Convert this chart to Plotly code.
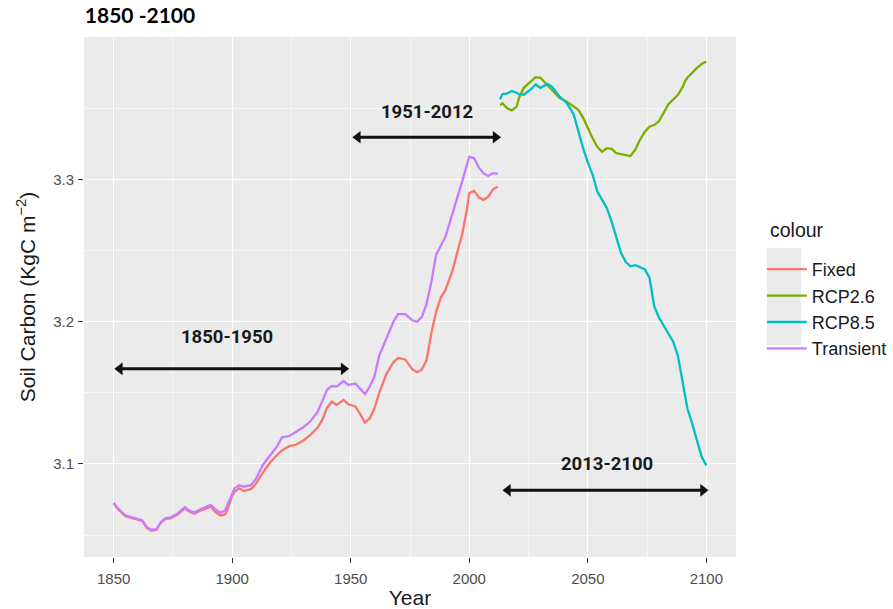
import plotly.graph_objects as go

# ---------------- data ----------------
hist_years = [1850, 1852, 1855, 1858, 1862, 1864, 1866, 1868, 1870, 1872, 1874, 1877,
              1880, 1882, 1884, 1886, 1889, 1891, 1893, 1895, 1897, 1898, 1900, 1901,
              1903, 1905, 1908, 1910, 1913, 1916, 1919, 1921, 1924, 1927, 1930, 1933,
              1936, 1938, 1940, 1942, 1944, 1947, 1949, 1952, 1954, 1956, 1958, 1960,
              1962, 1965, 1968, 1970, 1973, 1976, 1978, 1980, 1982, 1984, 1986, 1988,
              1990, 1993, 1995, 1997, 1999, 2000, 2002, 2004, 2006, 2008, 2010, 2012]

transient = [3.0728, 3.0685, 3.0638, 3.0625, 3.0605, 3.0556, 3.0536, 3.0541, 3.0594, 3.0620,
             3.0625, 3.0652, 3.0696, 3.0672, 3.0658, 3.0677, 3.0696, 3.0712, 3.0680, 3.0658,
             3.0672, 3.0712, 3.0800, 3.0829, 3.0850, 3.0840, 3.0852, 3.0895, 3.0995, 3.1062,
             3.1125, 3.1188, 3.1195, 3.1227, 3.1258, 3.1300, 3.1365, 3.1440, 3.1522, 3.1548,
             3.1544, 3.1583, 3.1555, 3.1565, 3.1530, 3.1492, 3.1544, 3.1615, 3.1760, 3.1880,
             3.2000, 3.2054, 3.2054, 3.2010, 3.2000, 3.2035, 3.2125, 3.2280, 3.2470, 3.2535,
             3.2600, 3.2765, 3.2870, 3.2985, 3.3105, 3.3160, 3.3149, 3.3085, 3.3044, 3.3025,
             3.3045, 3.3040]

fixed = [3.0722, 3.0680, 3.0633, 3.0620, 3.0600, 3.0551, 3.0531, 3.0536, 3.0589, 3.0614,
         3.0618, 3.0645, 3.0688, 3.0665, 3.0650, 3.0668, 3.0686, 3.0700, 3.0662, 3.0638,
         3.0645, 3.0680, 3.0775, 3.0805, 3.0829, 3.0810, 3.0825, 3.0860, 3.0940, 3.1010,
         3.1065, 3.1095, 3.1125, 3.1135, 3.1165, 3.1205, 3.1255, 3.1310, 3.1395, 3.1438,
         3.1415, 3.1450, 3.1420, 3.1405, 3.1350, 3.1290, 3.1320, 3.1390, 3.1500, 3.1630,
         3.1715, 3.1745, 3.1735, 3.1665, 3.1645, 3.1665, 3.1731, 3.1920, 3.2070, 3.2170,
         3.2225, 3.2365, 3.2490, 3.2615, 3.2790, 3.2903, 3.2920, 3.2875, 3.2856, 3.2879,
         3.2930, 3.2950]

future_years = [2013, 2014, 2016, 2018, 2020, 2021, 2023, 2026, 2028, 2030, 2033, 2035,
                2038, 2041, 2044, 2046, 2048, 2050, 2052, 2054, 2056, 2058, 2060, 2062,
                2064, 2066, 2068, 2070, 2072, 2074, 2076, 2077, 2078, 2080, 2082, 2084,
                2086, 2088, 2090, 2091, 2092, 2094, 2096, 2098, 2100]

rcp26 = [3.3524, 3.3536, 3.3500, 3.3486, 3.3512, 3.3575, 3.3645, 3.3692, 3.3720, 3.3715,
         3.3660, 3.3625, 3.3575, 3.3548, 3.3512, 3.3490, 3.3435, 3.3360, 3.3290, 3.3230,
         3.3195, 3.3220, 3.3215, 3.3185, 3.3178, 3.3170, 3.3165, 3.3210, 3.3280, 3.3335,
         3.3372, 3.3378, 3.3383, 3.3410, 3.3470, 3.3530, 3.3562, 3.3595, 3.3650, 3.3690,
         3.3715, 3.3750, 3.3785, 3.3812, 3.3830]

rcp85 = [3.3564, 3.3600, 3.3606, 3.3622, 3.3610, 3.3600, 3.3596, 3.3635, 3.3668, 3.3645,
         3.3672, 3.3650, 3.3585, 3.3540, 3.3460, 3.3340, 3.3220, 3.3120, 3.3035, 3.2915,
         3.2860, 3.2800, 3.2705, 3.2595, 3.2485, 3.2420, 3.2390, 3.2398, 3.2385, 3.2370,
         3.2310, 3.2200, 3.2110, 3.2030, 3.1970, 3.1915, 3.1860, 3.1760, 3.1560, 3.1480,
         3.1390, 3.1285, 3.1169, 3.1050, 3.0990]

x_ticks = [1850, 1900, 1950, 2000, 2050, 2100]
y_ticks = [3.1, 3.2, 3.3]
y_tick_labels = ["3.1", "3.2", "3.3"]

period_labels = ["1850-1950", "1951-2012", "2013-2100"]
period_start = [1850, 1950.4, 2013.7]
period_end = [1949.6, 2013.7, 2101.2]
period_arrow_y = [3.1669, 3.3297, 3.0815]
period_label_x = [1898, 1982, 2058]
period_label_y = [3.1895, 3.3477, 3.0998]

# ---------------- figure ----------------
colors = {"Fixed": "#F8766D", "RCP2.6": "#7CAE00", "RCP8.5": "#00BFC4", "Transient": "#C77CFF"}

fig = go.Figure()
series = [("Fixed", hist_years, fixed), ("RCP2.6", future_years, rcp26),
          ("RCP8.5", future_years, rcp85), ("Transient", hist_years, transient)]
for name, xs, ys in series:
    fig.add_trace(go.Scatter(x=xs, y=ys, mode="lines", name=name, legendgroup=name,
                             line=dict(color=colors[name], width=2.3)))

# period arrows (double-headed) and labels
head_off = 2.6  # years: pull the triangle centres inside so the tips land on the ends
for lab, s, e, ay, lx, ly in zip(period_labels, period_start, period_end,
                                 period_arrow_y, period_label_x, period_label_y):
    fig.add_trace(go.Scatter(x=[s + head_off, e - head_off], y=[ay, ay],
                             mode="lines+markers", showlegend=False, hoverinfo="skip",
                             line=dict(color="#111111", width=3),
                             marker=dict(symbol=["triangle-left", "triangle-right"],
                                         size=11, color="#111111",
                                         line=dict(width=0))))
    fig.add_annotation(x=lx, y=ly, xref="x", yref="y", text="<b>" + lab + "</b>",
                       showarrow=False,
                       font=dict(family="Liberation Sans Narrow, Roboto", size=18.5,
                                 color="#1a1a1a"))

# legend title (drawn separately to match ggplot spacing)
fig.add_annotation(x=1.049, y=0.629, xref="paper", yref="paper", xanchor="left",
                   yanchor="middle", text="colour", showarrow=False,
                   font=dict(size=19.5, color="#1a1a1a"))

# grey background behind legend keys (ggplot style)
fig.add_shape(type="rect", xref="paper", yref="paper", x0=1.0475, x1=1.0997,
              y0=0.4077, y1=0.5942, fillcolor="#EBEBEB", line=dict(width=0), layer="below")

fig.update_layout(
    width=893, height=609,
    margin=dict(l=84, r=157, t=37, b=52, autoexpand=False),
    paper_bgcolor="white", plot_bgcolor="#EBEBEB",
    font=dict(family="Liberation Sans, Arial", color="#1a1a1a"),
    title=dict(text="<b>1850 -2100</b>", x=0.095, xanchor="left", xref="container",
               y=0.975, yanchor="middle",
               font=dict(family="Lato, Roboto", size=21, color="black")),
    showlegend=True,
    legend=dict(x=1.0396, xanchor="left", y=0.5885, yanchor="top",
                font=dict(size=18, color="#1a1a1a"), bgcolor="rgba(0,0,0,0)",
                traceorder="normal", tracegroupgap=0, itemwidth=40),
    xaxis=dict(range=[1837.5, 2112.5], tickvals=x_ticks, ticks="outside", ticklen=5,
               tickwidth=1, tickcolor="#333333", ticklabelstandoff=3,
               tickfont=dict(size=15, color="#4D4D4D"),
               showgrid=True, gridcolor="white", gridwidth=1.2, zeroline=False,
               showline=False,
               minor=dict(dtick=25, tick0=1825, showgrid=True, gridcolor="#F6F6F6",
                          gridwidth=0.6, ticks=""),
               title=dict(text="Year", font=dict(size=21, color="#1a1a1a"), standoff=9)),
    yaxis=dict(range=[3.0346, 3.4002], tickvals=y_ticks, ticktext=y_tick_labels,
               ticks="outside", ticklen=5, tickwidth=1, tickcolor="#333333",
               ticklabelstandoff=1,
               tickfont=dict(size=15, color="#4D4D4D"),
               showgrid=True, gridcolor="white", gridwidth=1.2, zeroline=False,
               showline=False,
               minor=dict(tickvals=[3.05, 3.15, 3.25, 3.35], showgrid=True,
                          gridcolor="#F6F6F6", gridwidth=0.6, ticks=""),
               title=dict(text="Soil Carbon (KgC m<sup>\u22122</sup>)",
                          font=dict(size=21, color="#1a1a1a"), standoff=11)),
)

fig.write_html("out.html", config={"displayModeBar": False},
               post_script="document.body.style.margin='0px';")
